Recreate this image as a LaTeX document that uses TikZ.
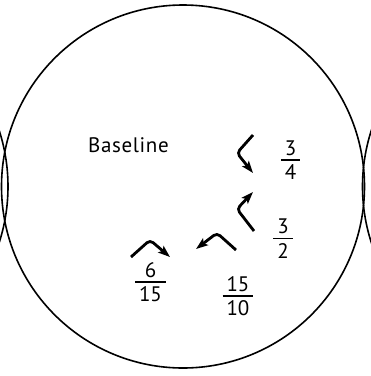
\documentclass[tikz,border=0pt]{standalone}
\usepackage{fontspec}
\setmainfont{PT Sans}
\usetikzlibrary{arrows.meta}
\newcommand{\fr}[2]{{\renewcommand\arraystretch{0}\setlength\arrayrulewidth{1.3pt}\begin{tabular}{@{\hspace{4pt}}c@{\hspace{4pt}}}\rule[-4pt]{0pt}{0pt}#1\\\hline\rule{0pt}{19pt}#2\end{tabular}}}
\begin{document}
\begin{tikzpicture}[x=1pt,y=-1pt,
  ring/.style={draw, line width=1.6pt},
  chev/.style={line width=2.8pt, rounded corners=4pt, -{Stealth[length=12pt,width=8.5pt,inset=2.5pt]}},
  lbl/.style={inner sep=0pt, font=\fontsize{21}{24}\selectfont}]
\clip (0,0) rectangle (371,376);
\draw[ring] (183,186.5) circle[radius=181.5pt];
\draw[ring] (-173.5,186.5) circle[radius=181.5pt];
\draw[ring] (544,186.5) circle[radius=181.5pt];
\node[lbl, anchor=base] (base) at (128.5,152) {\addfontfeature{LetterSpace=3}Baseline};
\node[lbl] (f34) at (290.5,160) {\fr{3}{4}};
\node[lbl] (f32) at (283,238.5) {\fr{3}{2}};
\node[lbl] (f615) at (150.5,282) {\fr{6}{15}};
\node[lbl] (f1510) at (238,296) {\fr{15}{10}};
\coordinate (a1s) at (253,135); \coordinate (a1m) at (237,153); \coordinate (a1e) at (253,173);
\coordinate (a2s) at (254,231); \coordinate (a2m) at (237,209); \coordinate (a2e) at (253,192);
\coordinate (a3s) at (131,257); \coordinate (a3m) at (150,240); \coordinate (a3e) at (170,257);
\coordinate (a4s) at (236,250); \coordinate (a4m) at (217,233); \coordinate (a4e) at (196,249);
\draw[chev] (a1s) -- (a1m) -- (a1e);
\draw[chev] (a2s) -- (a2m) -- (a2e);
\draw[chev] (a3s) -- (a3m) -- (a3e);
\draw[chev] (a4s) -- (a4m) -- (a4e);
\end{tikzpicture}
\end{document}
